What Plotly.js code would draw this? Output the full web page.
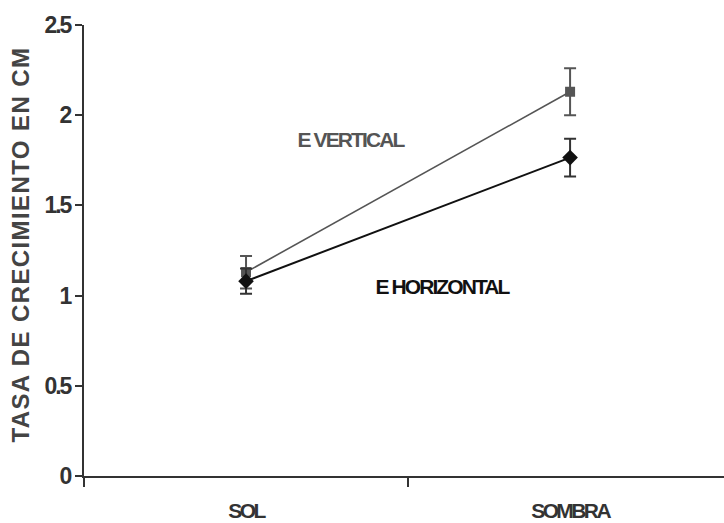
<!DOCTYPE html>
<html><head><meta charset="utf-8">
<script src="https://cdn.plot.ly/plotly-3.0.1.min.js"></script>
<style>
body{margin:0;padding:0;background:#fff}
#chart{width:724px;height:523px}
.annotation-text{font-weight:bold !important}
.ann-series .annotation-text{letter-spacing:-1.9px}
.ann-title .annotation-text{letter-spacing:1.4px}
.xtick text{letter-spacing:-2.6px;font-weight:bold !important}
.ytick text{letter-spacing:-2px;font-weight:bold !important}
</style>
</head><body>
<div id="chart"></div>
<script>
// Data
var categories = ["SOL", "SOMBRA"];
var catPositions = [0.5, 1.5];
var verticalMean = [1.13, 2.13];
var verticalErrPlus = [0.09, 0.13];
var verticalErrMinus = [0.09, 0.13];
var horizontalMean = [1.08, 1.765];
var horizontalErrPlus = [0.07, 0.105];
var horizontalErrMinus = [0.07, 0.105];
var seriesNames = ["E VERTICAL", "E HORIZONTAL"];
var yTitle = "TASA DE CRECIMIENTO EN CM";
var yTicks = [0, 0.5, 1, 1.5, 2, 2.5];
var yTickText = ["0", "0.5", "1", "1.5", "2", "2.5"];

var FONT = "'Liberation Sans', Arial, sans-serif";

var traces = [
  {
    x: catPositions, y: verticalMean, type: "scatter", mode: "lines+markers",
    name: seriesNames[0], cliponaxis: false,
    line: {color: "#555555", width: 1.6},
    marker: {symbol: "square", size: 10, color: "#555555"},
    error_y: {type: "data", symmetric: false, array: verticalErrPlus, arrayminus: verticalErrMinus,
      color: "#555555", thickness: 2, width: 6}
  },
  {
    x: catPositions, y: horizontalMean, type: "scatter", mode: "lines+markers",
    name: seriesNames[1], cliponaxis: false,
    line: {color: "#111111", width: 2},
    marker: {symbol: "diamond", size: 12, color: "#111111"},
    error_y: {type: "data", symmetric: false, array: horizontalErrPlus, arrayminus: horizontalErrMinus,
      color: "#333333", thickness: 2, width: 6}
  }
];

var layout = {
  width: 724, height: 523,
  margin: {l: 84, r: 0, t: 25, b: 47},
  paper_bgcolor: "#ffffff", plot_bgcolor: "#ffffff",
  showlegend: false,
  font: {family: FONT, color: "#333333"},
  xaxis: {
    range: [0, 1.975], showgrid: false, zeroline: false,
    showline: true, linecolor: "#333333", linewidth: 2,
    tickvals: catPositions, ticktext: categories, ticks: "",
    ticklabelstandoff: 15,
    tickfont: {size: 21, color: "#333333", family: FONT, weight: 700},
    minor: {tickvals: [0, 1], ticks: "outside", ticklen: 9, tickwidth: 2, tickcolor: "#333333", showgrid: false}
  },
  yaxis: {
    range: [0, 2.5], showgrid: false, zeroline: false,
    showline: true, linecolor: "#333333", linewidth: 2,
    tickvals: yTicks, ticktext: yTickText,
    ticks: "outside", ticklen: 7, tickwidth: 2, tickcolor: "#333333",
    tickfont: {size: 23, color: "#333333", family: FONT, weight: 700}
  },
  annotations: [
    {x: 0.624, y: 1.865, xref: "x", yref: "y", text: seriesNames[0], showarrow: false,
      xanchor: "left", yanchor: "middle",
      font: {size: 21, color: "#555555", family: FONT, weight: 700}},
    {x: 0.858, y: 1.048, xref: "x", yref: "y", text: seriesNames[1], showarrow: false,
      xanchor: "left", yanchor: "middle",
      font: {size: 21, color: "#111111", family: FONT, weight: 700}},
    {x: -0.1, y: 0.512, xref: "paper", yref: "paper", text: yTitle, showarrow: false,
      textangle: -90, xanchor: "center", yanchor: "middle",
      font: {size: 24, color: "#444444", family: FONT, weight: 700}}
  ]
};

Plotly.newPlot("chart", traces, layout, {displayModeBar: false, staticPlot: true}).then(function(){
  var anns = document.querySelectorAll(".annotation");
  if (anns[0]) anns[0].classList.add("ann-series");
  if (anns[1]) anns[1].classList.add("ann-series");
  if (anns[2]) anns[2].classList.add("ann-title");
});
</script>
</body></html>
